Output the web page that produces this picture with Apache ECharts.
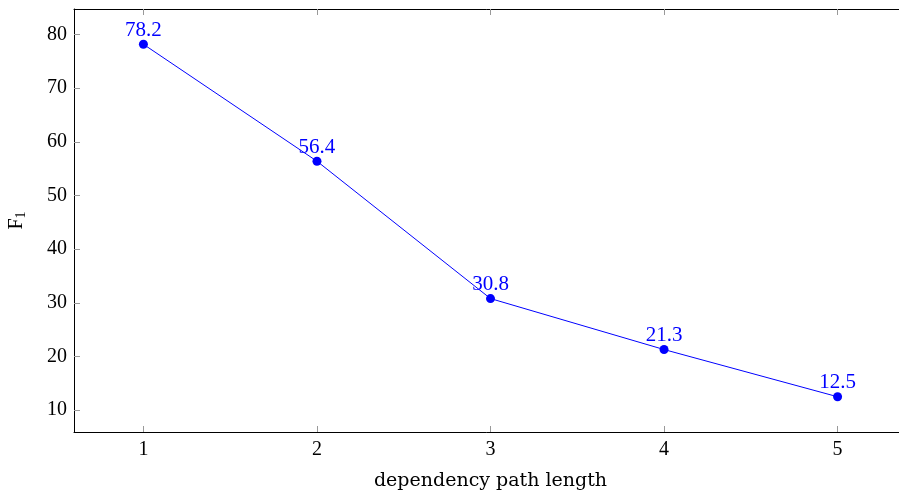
<!DOCTYPE html>
<html>
<head>
<meta charset="utf-8">
<style>
  html, body { margin: 0; padding: 0; background: #fff; }
  #chart { width: 899px; height: 493px; }
</style>
<script src="https://cdn.jsdelivr.net/npm/echarts@6/dist/echarts.min.js"></script>
</head>
<body>
<div id="chart"></div>
<script>
// F1 score by dependency path length
const pathLengths = [1, 2, 3, 4, 5];
const f1Scores = [78.2, 56.4, 30.8, 21.3, 12.5];
const yTicks = [10, 20, 30, 40, 50, 60, 70, 80];
const xTicks = [1, 2, 3, 4, 5];

const serif = '"Liberation Serif", "DejaVu Serif", serif';
const wideSerif = '"DejaVu Serif", "Liberation Serif", serif';
const blue = '#0000ff';

// axis ranges padded by 10% of the data span on each side
const xSpan = pathLengths[pathLengths.length - 1] - pathLengths[0];
const xMin = pathLengths[0] - 0.1 * xSpan;
const xMax = pathLengths[pathLengths.length - 1] + 0.1 * xSpan;
const yLo = Math.min(...f1Scores), yHi = Math.max(...f1Scores);
const yMin = yLo - 0.1 * (yHi - yLo);
const yMax = yHi + 0.1 * (yHi - yLo);

const chart = echarts.init(document.getElementById('chart'));

const tickStyle = { show: true, inside: true, length: 6, lineStyle: { color: '#999', width: 1 } };

chart.setOption({
  animation: false,
  grid: {
    left: 74, top: 9, right: -8, bottom: 61,
    outerBoundsMode: 'none', containLabel: false,
    show: false
  },
  xAxis: [{
    type: 'value', min: xMin, max: xMax, position: 'bottom',
    name: 'dependency path length', nameLocation: 'middle', nameGap: 40,
    nameTextStyle: { fontFamily: wideSerif, fontSize: 19, color: '#000' },
    axisLine: { show: true, lineStyle: { color: '#000', width: 1 } },
    axisTick: Object.assign({ customValues: xTicks }, tickStyle),
    axisLabel: { customValues: xTicks, margin: 8, fontFamily: serif, fontSize: 20, color: '#000' },
    splitLine: { show: false }
  }, {
    type: 'value', min: xMin, max: xMax, position: 'top',
    axisLine: { show: true, lineStyle: { color: '#000', width: 1 } },
    axisTick: Object.assign({ customValues: xTicks }, tickStyle),
    axisLabel: { show: false },
    splitLine: { show: false }
  }],
  yAxis: {
    type: 'value', min: yMin, max: yMax,
    name: '{f|F}{s|1}', nameLocation: 'middle', nameGap: 46, nameRotate: 90,
    nameTextStyle: {
      color: '#000',
      rich: {
        f: { fontFamily: serif, fontSize: 20, color: '#000' },
        s: { fontFamily: serif, fontSize: 14, color: '#000', verticalAlign: 'bottom', padding: [9, 0, 0, 0] }
      }
    },
    axisLine: { show: true, lineStyle: { color: '#000', width: 1 } },
    axisTick: Object.assign({ customValues: yTicks }, tickStyle),
    axisLabel: { customValues: yTicks, margin: 7, fontFamily: serif, fontSize: 20, color: '#000' },
    splitLine: { show: false }
  },
  series: [{
    type: 'line',
    data: pathLengths.map((x, i) => [x, f1Scores[i]]),
    symbol: 'circle', symbolSize: 9,
    itemStyle: { color: blue },
    lineStyle: { color: blue, width: 1 },
    label: {
      show: true, position: 'top', distance: -1,
      fontFamily: serif, fontSize: 21, color: blue,
      formatter: p => p.value[1].toFixed(1)
    }
  }]
});
</script>
</body>
</html>
